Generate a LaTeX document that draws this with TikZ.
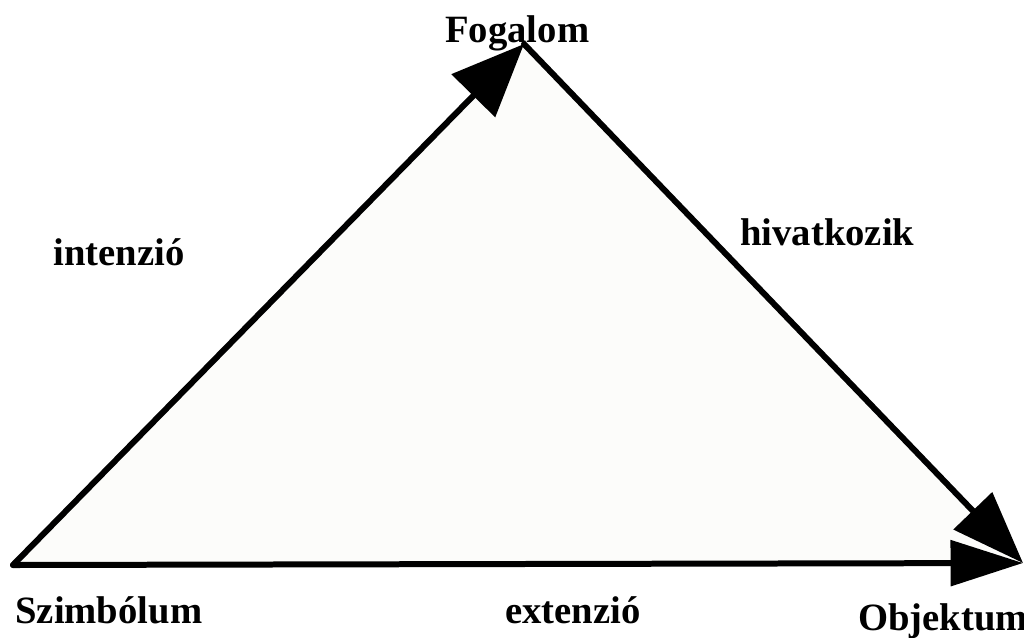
\documentclass[tikz,border=0pt]{standalone}
\usepackage{fontspec}
\setmainfont{Liberation Serif}
\usetikzlibrary{arrows.meta}
\definecolor{paper}{RGB}{252,252,250}
\tikzset{
    lbl/.style={inner sep=0pt, anchor=base west, font=\bfseries\fontsize{22}{26}\selectfont},
    edge/.style={line width=0.12cm, line cap=round, -{Triangle[length=1.45cm, width=#1]}},
    edge/.default=1.2cm
}
\begin{document}
\begin{tikzpicture}[x=0.02cm, y=-0.02cm]
    \useasboundingbox (0,0) rectangle (1024,637);

    \coordinate (S) at (13,565);
    \coordinate (F) at (524,44);
    \coordinate (O) at (1023,563);

    \fill[paper] (S) -- (F) -- (O) -- cycle;

    \draw[edge] (S) -- (F);
    \draw[edge=1.05cm] (F) -- (O);
    \draw[edge=0.9cm] (S) -- (O);

    \node[lbl] (fogalom) at (445,42) {Fogalom};
    \node[lbl] (szimb) at (15,623) {Szimbólum};
    \node[lbl] (obj) at (858,630) {Objektum};
    \node[lbl] (ext) at (505,623) {extenzió};
    \node[lbl] (int) at (53,265) {intenzió};
    \node[lbl] (hiv) at (740,245) {hivatkozik};
\end{tikzpicture}
\end{document}
